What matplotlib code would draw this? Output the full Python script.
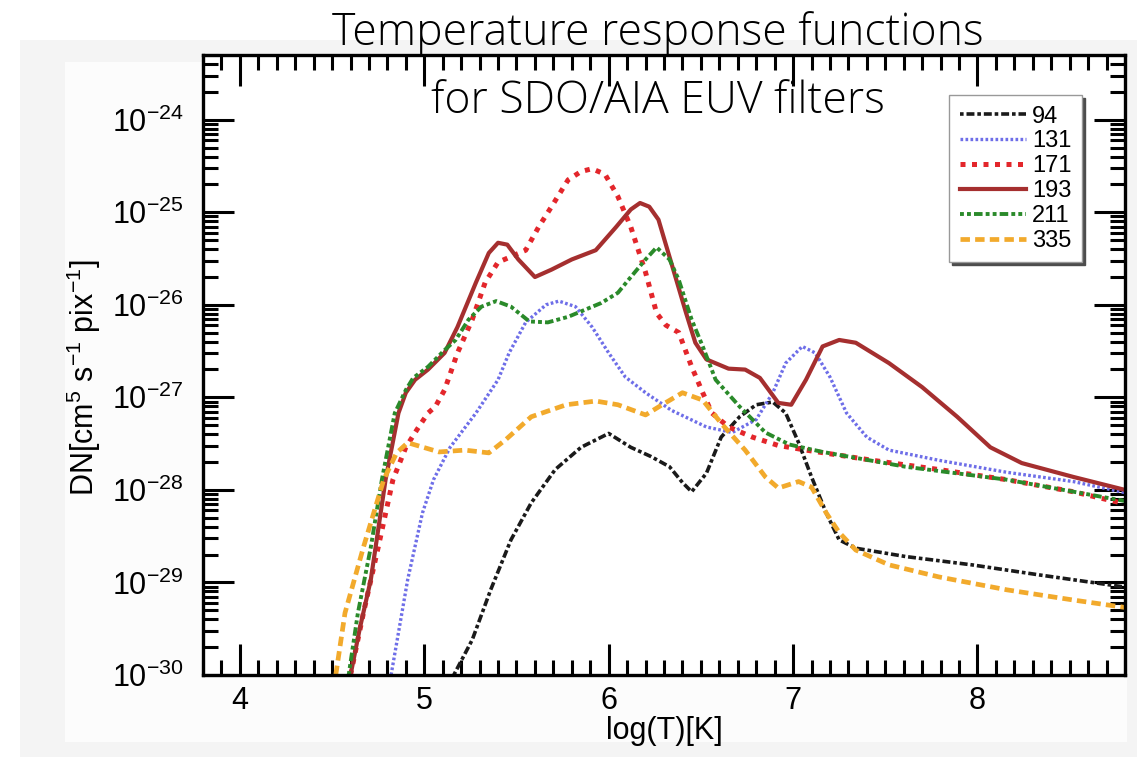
import numpy as np
import matplotlib
matplotlib.use("Agg")
import matplotlib.pyplot as plt
from matplotlib import font_manager
from matplotlib.ticker import MultipleLocator, FixedLocator, FuncFormatter, NullFormatter
from matplotlib.patches import Rectangle

## ========================================================
## 데이터 : log(T) 와 log10(응답) 값
## ========================================================
t94 = [5.16, 5.26, 5.36, 5.47, 5.58, 5.71, 5.85, 6.00, 6.12, 6.23, 6.33, 6.40, 6.45,
       6.53, 6.61, 6.71, 6.80, 6.89, 6.96, 7.03, 7.10, 7.18, 7.25, 7.34, 7.61, 7.97,
       8.34, 8.80]
r94 = [-30.0, -29.62, -29.08, -28.54, -28.14, -27.78, -27.54, -27.39, -27.54, -27.64,
       -27.75, -27.92, -28.02, -27.82, -27.43, -27.21, -27.08, -27.05, -27.17, -27.49,
       -27.86, -28.25, -28.54, -28.63, -28.72, -28.81, -28.92, -29.05]

t131 = [4.82, 4.91, 4.99, 5.05, 5.14, 5.28, 5.40, 5.46, 5.55, 5.66, 5.73, 5.82, 5.91,
        6.00, 6.09, 6.20, 6.34, 6.53, 6.67, 6.80, 6.89, 6.96, 7.05, 7.12, 7.20, 7.29,
        7.40, 7.52, 7.79, 8.16, 8.52, 8.80]
r131 = [-30.0, -28.97, -28.25, -27.89, -27.54, -27.17, -26.81, -26.52, -26.19, -26.00,
        -25.96, -26.02, -26.24, -26.52, -26.78, -26.95, -27.14, -27.32, -27.38, -27.24,
        -26.95, -26.63, -26.45, -26.52, -26.78, -27.17, -27.43, -27.57, -27.68, -27.81,
        -27.91, -28.03]

t171 = [4.60, 4.67, 4.75, 4.83, 4.90, 4.96, 5.02, 5.06, 5.11, 5.18, 5.26, 5.33, 5.40,
        5.47, 5.55, 5.62, 5.69, 5.78, 5.85, 5.91, 5.98, 6.05, 6.12, 6.20, 6.26, 6.31,
        6.38, 6.45, 6.51, 6.56, 6.65, 6.78, 6.92, 7.07, 7.43, 7.79, 8.16, 8.52, 8.80]
r171 = [-30.0, -29.33, -28.62, -27.89, -27.54, -27.35, -27.17, -27.10, -26.92, -26.52,
        -26.16, -25.76, -25.54, -25.48, -25.41, -25.16, -24.94, -24.65, -24.56, -24.53,
        -24.59, -24.83, -25.16, -25.65, -26.09, -26.22, -26.30, -26.67, -26.95, -27.17,
        -27.32, -27.43, -27.52, -27.57, -27.68, -27.78, -27.89, -28.02, -28.15]

t193 = [4.60, 4.65, 4.71, 4.79, 4.86, 4.90, 4.95, 5.02, 5.11, 5.18, 5.28, 5.35, 5.40,
        5.45, 5.51, 5.60, 5.69, 5.80, 5.93, 6.04, 6.12, 6.17, 6.22, 6.27, 6.34, 6.42,
        6.47, 6.53, 6.65, 6.74, 6.82, 6.92, 6.99, 7.07, 7.16, 7.25, 7.34, 7.52, 7.70,
        7.89, 8.07, 8.24, 8.52, 8.80]
r193 = [-30.0, -29.50, -28.97, -27.89, -27.17, -26.95, -26.81, -26.70, -26.52, -26.24,
        -25.76, -25.44, -25.33, -25.35, -25.51, -25.70, -25.62, -25.51, -25.41, -25.16,
        -24.97, -24.90, -24.94, -25.08, -25.55, -26.09, -26.41, -26.59, -26.69, -26.70,
        -26.79, -27.06, -27.08, -26.81, -26.45, -26.38, -26.41, -26.63, -26.89, -27.21,
        -27.54, -27.71, -27.86, -28.00]

t211 = [4.59, 4.64, 4.71, 4.77, 4.84, 4.90, 4.94, 5.02, 5.11, 5.17, 5.24, 5.31, 5.39,
        5.47, 5.57, 5.67, 5.78, 5.96, 6.05, 6.12, 6.20, 6.26, 6.33, 6.38, 6.45, 6.51,
        6.58, 6.71, 6.85, 6.98, 7.16, 7.61, 8.16, 8.80]
r211 = [-30.0, -29.33, -28.62, -27.89, -27.17, -26.92, -26.79, -26.67, -26.49, -26.38,
        -26.16, -26.02, -25.96, -26.02, -26.18, -26.19, -26.13, -25.98, -25.87, -25.70,
        -25.51, -25.38, -25.51, -25.73, -26.16, -26.45, -26.81, -27.10, -27.38, -27.51,
        -27.59, -27.75, -27.89, -28.12]

t335 = [4.52, 4.57, 4.67, 4.78, 4.85, 4.91, 5.08, 5.22, 5.35, 5.44, 5.58, 5.77, 5.93,
        6.05, 6.20, 6.29, 6.40, 6.51, 6.61, 6.74, 6.85, 6.92, 7.03, 7.10, 7.18, 7.25,
        7.34, 7.52, 7.79, 8.16, 8.52, 8.80]
r335 = [-30.0, -29.33, -28.62, -27.89, -27.60, -27.49, -27.59, -27.57, -27.60, -27.46,
        -27.21, -27.08, -27.04, -27.08, -27.19, -27.08, -26.95, -27.03, -27.28, -27.57,
        -27.86, -27.98, -27.91, -27.97, -28.25, -28.46, -28.65, -28.81, -28.94, -29.08,
        -29.19, -29.27]

channel_names = ["94", "131", "171", "193", "211", "335"]
y_decades = [-30, -29, -28, -27, -26, -25, -24]
title_lines = ["Temperature response functions", "for SDO/AIA EUV filters"]

## ========================================================
## 스타일 설정
## ========================================================
plt.rcParams['font.family'] = ['Liberation Sans', 'DejaVu Sans']
plt.rcParams['mathtext.fontset'] = 'custom'
plt.rcParams['mathtext.rm'] = 'Liberation Sans'
plt.rcParams['mathtext.it'] = 'Liberation Sans:italic'
plt.rcParams['mathtext.bf'] = 'Liberation Sans:bold'

# 제목용 얇은 글꼴 찾기 (보통 폭, light 굵기)
title_font = None
for fam in ['Open Sans', 'Lato', 'Noto Sans', 'Roboto', 'Inter']:
    cands = [f for f in font_manager.fontManager.ttflist
             if f.name == fam and f.style == 'normal'
             and f.stretch == 'normal' and 'ondensed' not in f.fname
             and isinstance(f.weight, int) and f.weight <= 300]
    if cands:
        cands.sort(key=lambda f: -f.weight)
        title_font = font_manager.FontProperties(fname=cands[0].fname)
        break
if title_font is None:
    title_font = font_manager.FontProperties(family='Open Sans')
title_font.set_size(32)

series = [
    (t94,  r94,  dict(color='#1a1a1a', lw=2.6, ls=(0, (1, 0.8, 2.2, 0.8)))),
    (t131, r131, dict(color='#6e6ee8', lw=2.4, ls=(0, (0.8, 0.7)))),
    (t171, r171, dict(color='#e3262b', lw=3.6, ls=(0, (1, 1.3)))),
    (t193, r193, dict(color='#a52f2f', lw=3.0, ls='-')),
    (t211, r211, dict(color='#2a8a2a', lw=2.8, ls=(0, (1, 0.8, 1, 0.8, 2.2, 0.8)))),
    (t335, r335, dict(color='#f2aa2c', lw=3.4, ls=(0, (2, 1.1)))),
]

fig = plt.figure(figsize=(11.37, 7.57), dpi=100)
fig.patch.set_facecolor('white')

# 슬라이드 배경 (연한 회색 영역)
fig.patches.append(Rectangle((20 / 1137, 0), 1117 / 1137, 717 / 757,
                             transform=fig.transFigure, facecolor='#f4f4f4',
                             edgecolor='none', zorder=-10))
fig.patches.append(Rectangle((65 / 1137, 15 / 757), 1062 / 1137, 680 / 757,
                             transform=fig.transFigure, facecolor='#fcfcfc',
                             edgecolor='none', zorder=-9))

ax = fig.add_axes([203 / 1137, 82 / 757, 922 / 1137, 620 / 757])
ax.set_facecolor('white')

for (t, r, st), name in zip(series, channel_names):
    ax.plot(t, 10.0 ** np.array(r), label=name, **st)

ax.set_yscale('log')
ax.set_xlim(3.8, 8.8)
ax.set_ylim(1e-30, 5e-24)

ax.xaxis.set_major_locator(MultipleLocator(1))
ax.xaxis.set_minor_locator(MultipleLocator(0.1))
ax.yaxis.set_major_locator(FixedLocator([10.0 ** e for e in y_decades]))
minor_y = [m * 10.0 ** e for e in y_decades for m in range(2, 10) if m * 10.0 ** e <= 5e-24]
ax.yaxis.set_minor_locator(FixedLocator(minor_y))
ax.yaxis.set_major_formatter(FuncFormatter(lambda v, p: r'$10^{%d}$' % round(np.log10(v))))
ax.yaxis.set_minor_formatter(NullFormatter())

ax.tick_params(which='both', direction='in', top=True, right=True, width=2.2,
               labelsize=22, colors='black')
ax.tick_params(which='major', length=22, pad=8)
ax.tick_params(which='minor', length=11)
ax.tick_params(axis='y', which='major', pad=14)
for sp in ax.spines.values():
    sp.set_linewidth(2.4)

ax.set_xlabel('log(T)[K]', fontsize=22, labelpad=0)
ax.set_ylabel(r'DN[cm$^{5}$ s$^{-1}$ pix$^{-1}$]', fontsize=22)
ax.yaxis.set_label_coords(-0.108, 0.48)

leg = ax.legend(loc='upper right', bbox_to_anchor=(1082 / 1137, (757 - 95) / 757),
                bbox_transform=fig.transFigure, borderaxespad=0, fontsize=17,
                handlelength=2.8, handletextpad=0.25, labelspacing=0.12,
                borderpad=0.45, fancybox=False, shadow={'color': '0.3', 'alpha': 1},
                framealpha=1, edgecolor='#999999')
leg.get_frame().set_linewidth(1.0)

# 제목 (얇은 글꼴)
fig.text(658 / 1137, (757 - 34) / 757, title_lines[0], ha='center', va='center',
         fontproperties=title_font)
fig.text(658 / 1137, (757 - 102) / 757, title_lines[1], ha='center', va='center',
         fontproperties=title_font)

fig.savefig('out.png', dpi=100)
